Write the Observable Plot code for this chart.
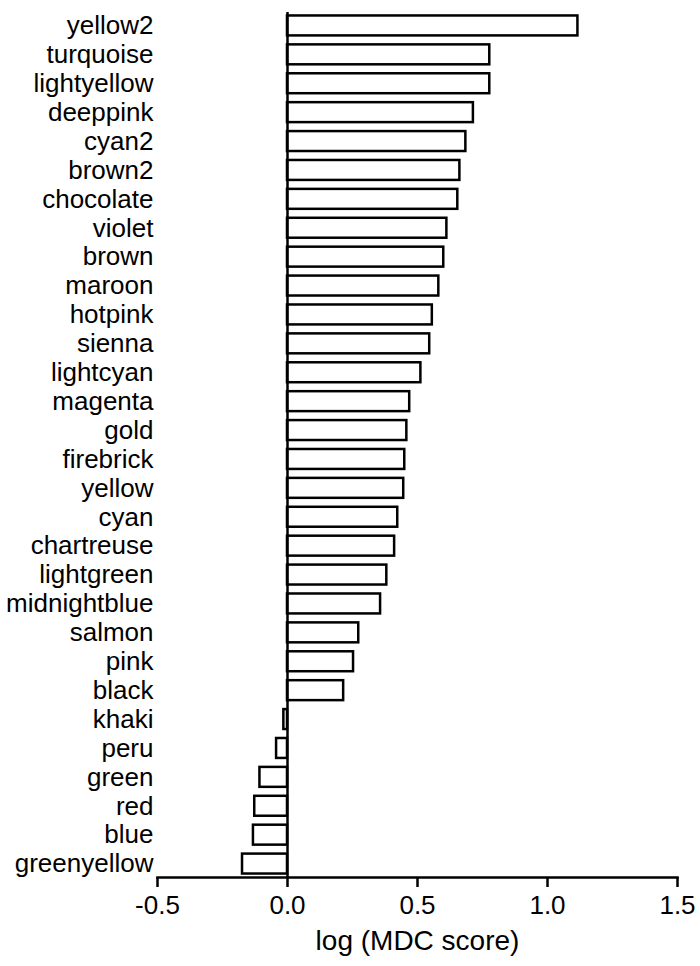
<!DOCTYPE html>
<html>
<head>
<meta charset="utf-8">
<script src="https://cdn.jsdelivr.net/npm/d3@7"></script>
<script src="https://cdn.jsdelivr.net/npm/@observablehq/plot@0.6"></script>
<style>
  html, body { margin: 0; padding: 0; background: white; }
</style>
</head>
<body>
<div id="chart"></div>
<script>
const categories = ["yellow2","turquoise","lightyellow","deeppink","cyan2","brown2","chocolate","violet","brown","maroon","hotpink","sienna","lightcyan","magenta","gold","firebrick","yellow","cyan","chartreuse","lightgreen","midnightblue","salmon","pink","black","khaki","peru","green","red","blue","greenyellow"];
const values = [1.117,0.778,0.778,0.715,0.686,0.663,0.655,0.613,0.601,0.582,0.557,0.547,0.513,0.470,0.459,0.451,0.447,0.424,0.412,0.382,0.358,0.274,0.254,0.216,-0.014,-0.042,-0.106,-0.126,-0.131,-0.173];
const xTicks = [-0.5, 0, 0.5, 1.0, 1.5];
const xLabel = "log (MDC score)";

const data = categories.map((name, i) => ({name, value: values[i]}));

const chart = Plot.plot({
  width: 700,
  height: 966,
  marginTop: 12,
  marginBottom: 89,
  marginLeft: 157,
  marginRight: 23,
  style: {fontFamily: "'Liberation Sans', Arial, sans-serif", fontSize: "26px", color: "black", background: "white"},
  x: {domain: [-0.5, 1.5]},
  y: {domain: categories, paddingInner: 0.31, paddingOuter: 0.12, round: false},
  marks: [
    Plot.barX(data, {x: "value", y: "name", fill: "white", stroke: "black", strokeWidth: 2.5}),
    Plot.ruleX([0], {stroke: "black", strokeWidth: 2.5}),
    Plot.frame({anchor: "bottom", stroke: "black", strokeWidth: 2.5}),
    Plot.axisX({ticks: xTicks, tickFormat: d => d.toFixed(1), tickSize: 10, tickPadding: 8, strokeWidth: 2.5, fontSize: 26, label: null}),
    Plot.axisY({tickSize: 0, tickPadding: 4, fontSize: 26, label: null}),
    Plot.text([xLabel], {frameAnchor: "bottom", dy: 72, fontSize: 28})
  ]
});
document.getElementById("chart").appendChild(chart);
</script>
</body>
</html>
